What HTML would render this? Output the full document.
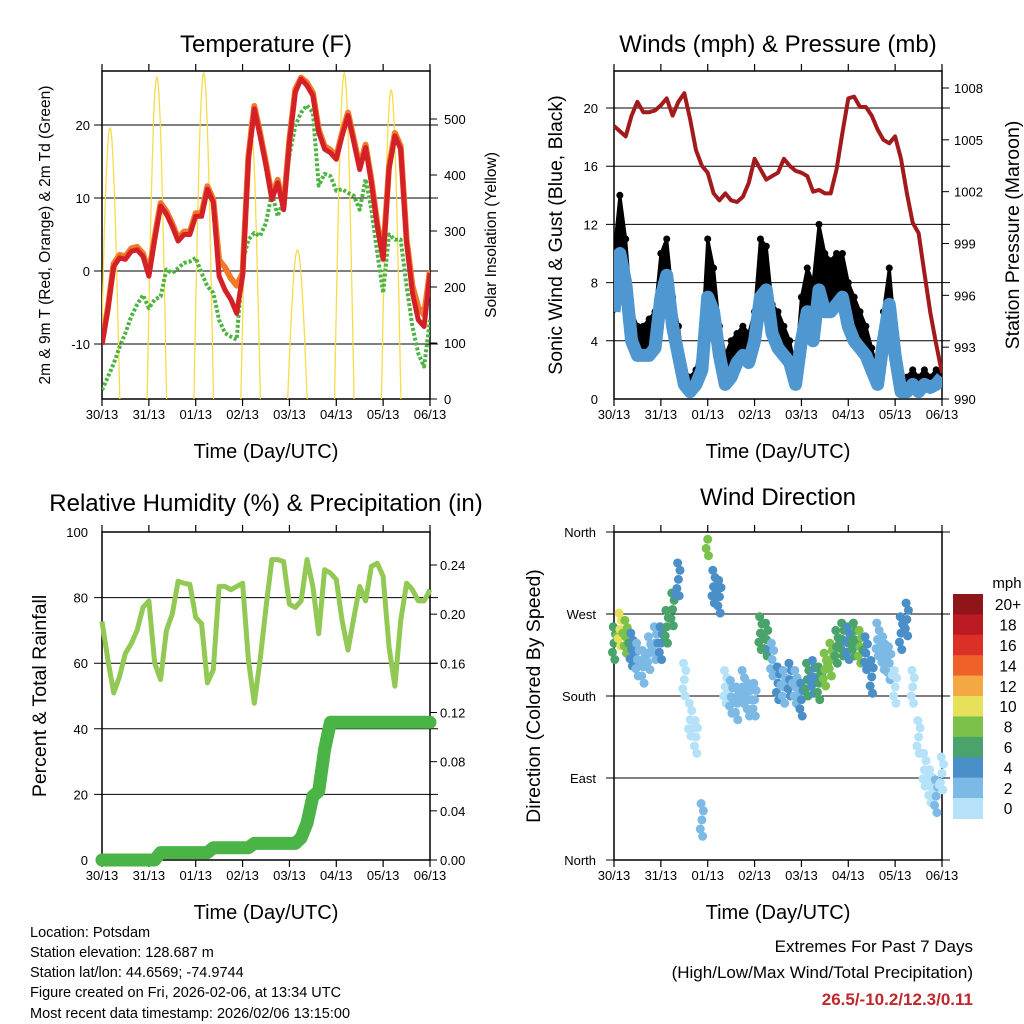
<!DOCTYPE html>
<html><head><meta charset="utf-8"><style>
html,body{margin:0;padding:0;background:#fff}
svg{display:block;font-family:"Liberation Sans",Arial,sans-serif}
</style></head><body>
<svg id="c" width="1024" height="1024" viewBox="0 0 1024 1024" xmlns="http://www.w3.org/2000/svg">
<rect width="1024" height="1024" fill="#fff"/>
<g id="g"></g>
<text x="266" y="52" font-size="24" text-anchor="middle">Temperature (F)</text>
<text x="778" y="52" font-size="24" text-anchor="middle">Winds (mph) &amp; Pressure (mb)</text>
<text x="266" y="511" font-size="24" text-anchor="middle">Relative Humidity (%) &amp; Precipitation (in)</text>
<text x="778" y="505" font-size="24" text-anchor="middle">Wind Direction</text>
<text x="266" y="458" font-size="20" text-anchor="middle">Time (Day/UTC)</text>
<text x="778" y="458" font-size="20" text-anchor="middle">Time (Day/UTC)</text>
<text x="266" y="919" font-size="20" text-anchor="middle">Time (Day/UTC)</text>
<text x="778" y="919" font-size="20" text-anchor="middle">Time (Day/UTC)</text>
<text transform="translate(50,235) rotate(-90)" font-size="15.5" text-anchor="middle">2m &amp; 9m T (Red, Orange) &amp; 2m Td (Green)</text>
<text transform="translate(496,235) rotate(-90)" font-size="15.5" text-anchor="middle">Solar Insolation (Yellow)</text>
<text transform="translate(562,235) rotate(-90)" font-size="19.5" text-anchor="middle">Sonic Wind &amp; Gust (Blue, Black)</text>
<text transform="translate(1019,235) rotate(-90)" font-size="19.5" text-anchor="middle">Station Pressure (Maroon)</text>
<text transform="translate(46,696) rotate(-90)" font-size="19.5" text-anchor="middle">Percent &amp; Total Rainfall</text>
<text transform="translate(540,696) rotate(-90)" font-size="19.5" text-anchor="middle">Direction (Colored By Speed)</text>
<g font-size="14.5">
<text x="30" y="937">Location: Potsdam</text>
<text x="30" y="957">Station elevation: 128.687 m</text>
<text x="30" y="977">Station lat/lon: 44.6569; -74.9744</text>
<text x="30" y="997">Figure created on Fri, 2026-02-06, at 13:34 UTC</text>
<text x="30" y="1018">Most recent data timestamp: 2026/02/06 13:15:00</text>
</g>
<text x="973" y="952" font-size="17" text-anchor="end">Extremes For Past 7 Days</text>
<text x="973" y="978" font-size="17" text-anchor="end">(High/Low/Max Wind/Total Precipitation)</text>
<text x="973" y="1005" font-size="17" font-weight="bold" fill="#c0272d" text-anchor="end">26.5/-10.2/12.3/0.11</text>
</svg>
<script>
const dayLabels=["30/13","31/13","01/13","02/13","03/13","04/13","05/13","06/13"];
const tempRed=[-10.1,-5.3,0.6,1.8,1.6,2.7,2.9,2,-0.7,4.3,8.9,7.8,6.1,4.1,5,5,7.5,7.5,11.2,9.4,-0.7,-2.6,-3.9,-5.8,-0.7,15.3,22.2,18.5,14.4,9.8,12.1,8.4,17.6,24.5,26.3,25.4,24,19,16.7,16.2,15.3,18.5,21.3,17.6,13.9,16.9,12.1,6.1,1.6,13.9,18.5,16.7,3.9,-3,-6.7,-7.6,-0.3];
const tempOrange=[-9.8,-5,1,2.2,2,3.1,3.3,2.4,-0.3,4.7,9.3,8.2,6.5,4.5,5.4,5.4,7.9,7.9,11.6,9.8,1.5,0.5,-1,-2,-0.3,15.7,22.6,18.9,14.8,10.2,12.5,8.8,18,24.9,26.5,25.8,24.4,19.4,17.1,16.6,15.7,18.9,21.7,18,14.3,17.3,12.5,6.5,2,14.3,18.9,17.1,4.3,-2,-5,-6,0.1];
const dewGreen=[-16.3,-14.5,-12.7,-10.4,-8.5,-6.2,-4.6,-3.3,-5.1,-3.9,-3.5,0.2,-0.3,0.4,1.1,1.3,1.8,-0.3,-2.1,-3,-6.7,-8.5,-9,-9.4,1.1,4.3,5.2,4.8,6.6,10.7,7.5,9.8,15.8,19.9,21.7,22.7,21.7,11.7,13.3,13,11,11.2,10.7,10.3,8.4,12.6,8.4,2.5,-3,5,4.3,4.3,-2.1,-7.6,-11.3,-13.1,-6.7];
const solarPeak=[484,575,582,498,266,582,552];
const solarPeakHour=[4.1,28.1,52.1,76.1,100.1,124.1,148.1];
const windSust=[6,10,8,4,3,3,3,3.5,7,8.5,5,3,1,0.5,1,2,7,6,3,1,1.5,2.5,3,2.5,4,7,7.5,4.5,3.5,3,2.5,1,4,6,4,7.5,6,6,6.5,7,5,4,3.5,3,2,1,4,6.5,3,0.5,0.5,1,0.5,1,0.8,1,1.5];
const windGust=[10,14,11,6,5,5,5.5,6,10,11,7,5,2,1.5,2,4,11,9,5,3,4,4.5,5,4.5,6,11,10.5,6.5,6,5,4,2,7,9,8,12,10,9.5,10,10,8,7,6,5,3.5,2,6,9,4.5,1.5,1.5,2,1.5,2,1.5,2,2];
const pressure=[1005.8,1005.5,1005.2,1006.4,1007.2,1006.6,1006.6,1006.7,1007,1007.4,1006.4,1007.2,1007.7,1006.2,1004.4,1003.5,1003.1,1001.9,1001.5,1001.9,1001.5,1001.4,1001.7,1002.5,1003.9,1003.3,1002.7,1002.9,1003.1,1003.9,1003.5,1003.2,1003.1,1002.9,1002,1002.1,1001.9,1001.9,1003.3,1005.4,1007.4,1007.5,1006.9,1006.9,1006.4,1005.6,1005,1004.8,1005.2,1003.9,1001.9,1000.2,999.6,997.3,995,993.2,991.5];
const humidity=[72.7,61,50.9,56,63,66,70,77,79,60,55,70,75,85,84.4,84,74,72,54,58,83.4,83.4,82.4,83.4,84.4,61,47.8,61,77,91.6,91.6,91,78,77,79,91.6,83.4,69,88.5,87.5,85.5,73,64,74,83.4,79,89.5,90.5,86.5,65,53,73,84.4,82.4,79,79,82.4];
const precip=[0,0,0,0,0,0,0,0,0,0,0.006,0.006,0.006,0.006,0.006,0.006,0.006,0.006,0.006,0.010,0.010,0.010,0.010,0.010,0.010,0.010,0.0135,0.0135,0.0135,0.0135,0.0135,0.0135,0.0135,0.0135,0.018,0.03,0.052,0.056,0.09,0.112,0.112,0.112,0.112,0.112,0.112,0.112,0.112,0.112,0.112,0.112,0.112,0.112,0.112,0.112,0.112,0.112,0.112];
const windDir=[238,253,245,231,220,212,227,238,238,256,275,308,198,154,135,44,352,300,289,190,179,172,190,176,176,249,242,220,194,190,198,190,176,198,201,194,209,220,234,242,238,242,234,227,201,242,227,216,190,249,264,190,135,99,81,70,95];
const dirSpeed=[6,10,8,5,3,3,2,3,5,6,7,4,1,0.5,1,3,8,5,4,1,2,2,3,2,3,7,7,3,4,3,4,3,4,6,4,6,8,9,7,6,5,7,8,5,4,3,2,2,1,4,4,1,0.5,1,1,2,1];
const speedBins=["0","2","4","6","8","10","12","14","16","18","20+"];
const binColors=["#b5e2f8","#7db9e5","#4a8fc7","#4aa36a","#7cc24a","#e6e05a","#f4a843","#ee6129","#db3026","#bb1a22","#8f1518"];
const dirLabels=["North","East","South","West","North"];
const dirTicks=[0,90,180,270,360];

const NS="http://www.w3.org/2000/svg";
const G=document.getElementById('g');
function el(tag,attrs,parent){const e=document.createElementNS(NS,tag);for(const k in attrs)e.setAttribute(k,attrs[k]);(parent||G).appendChild(e);return e;}
function txt(x,y,s,size,anchor,parent){const t=el('text',{x:x,y:y,'font-size':size,'text-anchor':anchor},parent);t.textContent=s;return t;}
const HOURS=168, STEP=3;
function mkX(x0,x1){return h=>x0+(x1-x0)*h/HOURS;}
function mkY(v0,v1,y0,y1){return v=>y0+(y1-y0)*(v-v0)/(v1-v0);}
function poly(arr,xf,yf){return arr.map((v,i)=>xf(i*STEP).toFixed(1)+','+yf(v).toFixed(1)).join(' ');}

function frame(name,x0,y0,x1,y1,xf){
  const g=el('g',{});
  
  
  el('rect',{x:x0,y:y0,width:x1-x0,height:y1-y0,fill:'none',stroke:'#000','stroke-width':1.5},g);
  dayLabels.forEach((d,i)=>{const x=xf(i*24);
    el('line',{x1:x,y1:y0,x2:x,y2:y0-7,stroke:'#000','stroke-width':1.2},g);
    el('line',{x1:x,y1:y1,x2:x,y2:y1+7,stroke:'#000','stroke-width':1.2},g);
    const t=txt(x,y1+20,d,13,'middle',g);
    
    
  });
  return g;
}
function hgrid(g,x0,x1,ys){ys.forEach(y=>el('line',{x1:x0-8,y1:y,x2:x1+8,y2:y,stroke:'#000','stroke-width':1},g));}

// ---------- Panel 1: Temperature ----------
(function(){
  const x0=102,x1=430,y0=71,y1=399;
  const X=mkX(x0,x1), Y=mkY(0,10,271,198), YS=mkY(0,100,399,343);
  const g=frame('temperature',x0,y0,x1,y1,X);
  hgrid(g,x0,x1,[20,10,0,-10].map(Y));
  [20,10,0,-10].forEach(v=>{const t=txt(x0-12,Y(v)+5,String(v),13,'end',g);});
  [0,100,200,300,400,500].forEach(v=>{el('line',{x1:x1,y1:YS(v),x2:x1+7,y2:YS(v),stroke:'#000'},g);const t=txt(x1+14,YS(v)+5,String(v),13,'start',g);});
  const cp=el('clipPath',{id:'cp1'});el('rect',{x:x0,y:y0,width:x1-x0,height:y1-y0},cp);
  const pg=el('g',{'clip-path':'url(#cp1)'});
  solarPeak.forEach((p,i)=>{const h=solarPeakHour[i];const pts=[];
    for(let k=-5;k<=5;k+=0.25){const v=p*Math.max(0,Math.cos(k/5*Math.PI/2));pts.push(X(h+k).toFixed(1)+','+YS(v).toFixed(1));}
    const s=el('polyline',{points:pts.join(' '),fill:'none',stroke:'#f7dc4a','stroke-width':1.3},pg);
    
    
  });
  const d=el('polyline',{points:poly(dewGreen,X,Y),fill:'none',stroke:'#4cb541','stroke-width':4,'stroke-dasharray':'3 2','stroke-linejoin':'round'},pg);
  
  
  const o=el('polyline',{points:poly(tempOrange,X,Y),fill:'none',stroke:'#f27a27','stroke-width':6,'stroke-linejoin':'round'},pg);
  
  
  const r=el('polyline',{points:poly(tempRed,X,Y),fill:'none',stroke:'#d42027','stroke-width':5,'stroke-linejoin':'round'},pg);
  
  
})();

// ---------- Panel 2: Winds ----------
(function(){
  const x0=614,x1=942,y0=71,y1=399;
  const X=mkX(x0,x1), Y=mkY(0,20,399,108), YP=mkY(990,1008,399,88);
  const g=frame('winds',x0,y0,x1,y1,X);
  hgrid(g,x0,x1,[4,8,12,16,20].map(Y));
  [0,4,8,12,16,20].forEach(v=>{const t=txt(x0-16,Y(v)+5,String(v),13,'end',g);});
  [990,993,996,999,1002,1005,1008].forEach(v=>{el('line',{x1:x1,y1:YP(v),x2:x1+7,y2:YP(v),stroke:'#000'},g);const t=txt(x1+12,YP(v)+5,String(v),13,'start',g);});
  const cp=el('clipPath',{id:'cp2'});el('rect',{x:x0,y:y0,width:x1-x0,height:y1-y0},cp);
  const pg=el('g',{'clip-path':'url(#cp2)'});
  const bandPts=windGust.map((v,i)=>X(i*STEP).toFixed(1)+','+Y(v).toFixed(1)).concat(windSust.map((v,i)=>X(i*STEP).toFixed(1)+','+Y(v).toFixed(1)).reverse());
  const band=el('polygon',{points:bandPts.join(' '),fill:'#000',stroke:'#000','stroke-width':3,'stroke-linejoin':'round'},pg);
  
  
  windGust.forEach((v,i)=>{const c=el('circle',{cx:X(i*STEP),cy:Y(v),r:3.5,fill:'#000'},pg);});
  const bl=el('polyline',{points:poly(windSust,X,Y),fill:'none',stroke:'#4f97d1','stroke-width':13,'stroke-linejoin':'round'},pg);
  
  
  const pl=el('polyline',{points:poly(pressure,X,YP),fill:'none',stroke:'#a21a1c','stroke-width':4,'stroke-linejoin':'round'},pg);
  
  
})();

// ---------- Panel 3: Humidity ----------
(function(){
  const x0=102,x1=430,y0=532,y1=860;
  const X=mkX(x0,x1), Y=mkY(0,100,860,532), YR=mkY(0,0.24,860,565);
  const g=frame('humidity',x0,y0,x1,y1,X);
  hgrid(g,x0,x1,[20,40,60,80].map(Y));
  [0,20,40,60,80,100].forEach(v=>{const t=txt(x0-14,Y(v)+5,String(v),13,'end',g);});
  [0,0.04,0.08,0.12,0.16,0.20,0.24].forEach(v=>{el('line',{x1:x1,y1:YR(v),x2:x1+7,y2:YR(v),stroke:'#000'},g);const t=txt(x1+10,YR(v)+5,v.toFixed(2),13,'start',g);});
  const h=el('polyline',{points:poly(humidity,X,Y),fill:'none',stroke:'#92c955','stroke-width':5,'stroke-linejoin':'round'});
  
  
  const p=el('polyline',{points:poly(precip,X,YR),fill:'none',stroke:'#4ab446','stroke-width':13,'stroke-linejoin':'round','stroke-linecap':'round'});
  
  
})();

// ---------- Panel 4: Wind direction ----------
(function(){
  const x0=614,x1=942,y0=532,y1=860;
  const X=mkX(x0,x1), Y=mkY(0,360,860,532);
  const g=frame('direction',x0,y0,x1,y1,X);
  hgrid(g,x0,x1,dirTicks.map(Y));
  dirLabels.forEach((s,i)=>{const t=txt(x0-18,Y(dirTicks[i])+5,s,13,'end',g);});
  function col(s){return binColors[Math.min(10,Math.floor(s/2))];}
  const offs=[[0,0],[-0.8,-10],[0.8,10],[-0.4,18],[0.4,-18]];
  windDir.forEach((d,i)=>{
    offs.forEach(o=>{
      const dd=d+o[1];
      if(dd<0||dd>360) return;
      const c=el('circle',{cx:X(i*STEP+o[0]),cy:Y(dd),r:4.5,fill:col(dirSpeed[i])});
      
      
    });
    if(i<windDir.length-1 && Math.abs(windDir[i+1]-d)<40){
      const m=el('circle',{cx:X(i*STEP+1.5),cy:Y((d+windDir[i+1])/2),r:4.5,fill:col((dirSpeed[i]+dirSpeed[i+1])/2)});
      
      
    }
  });
  const cb=el('g',{});
  
  
  txt(1007,588,'mph',15,'middle',cb);
  const top=594,hgt=20.4;
  for(let k=10;k>=0;k--){const row=10-k;
    el('rect',{x:953,y:top+row*hgt,width:30,height:hgt+0.5,fill:binColors[k]},cb);
    const t=txt(1008,top+row*hgt+hgt/2+6,speedBins[k],15.5,'middle',cb);
    
    
  }
})();
</script>
</body></html>
